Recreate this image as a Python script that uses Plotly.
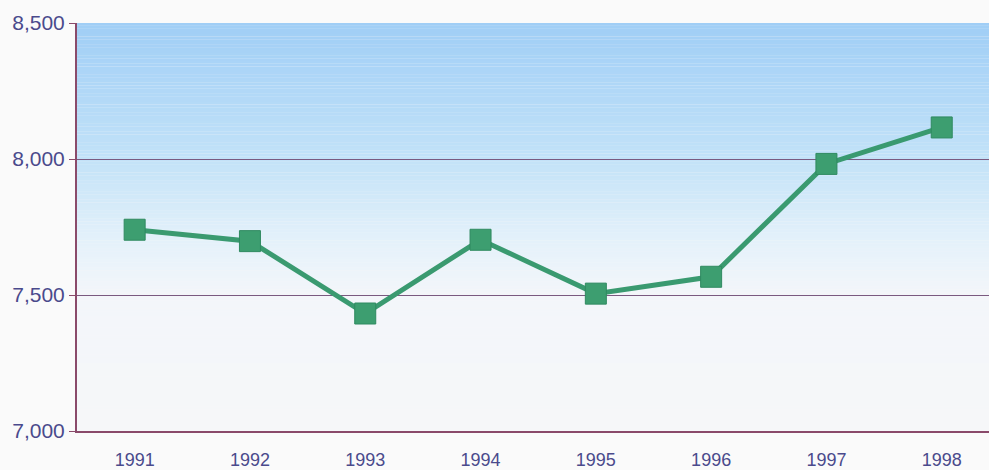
import plotly.graph_objects as go

years = ["1991", "1992", "1993", "1994", "1995", "1996", "1997", "1998"]
values = [7740, 7698, 7432, 7703, 7505, 7567, 7982, 8116]
y_ticks = [7000, 7500, 8000, 8500]
y_tick_labels = ["7,000", "7,500", "8,000", "8,500"]

# gradient stops (y value, rgb)
stops = [
    (8500, (160, 206, 246)),
    (8000, (194, 226, 248)),
    (7700, (228, 241, 250)),
    (7500, (243, 246, 250)),
    (7000, (246, 247, 249)),
]

def interp(v):
    for (y1, c1), (y2, c2) in zip(stops, stops[1:]):
        if y2 <= v <= y1:
            t = (y1 - v) / (y1 - y2)
            return "rgb(%d,%d,%d)" % tuple(round(a + (b - a) * t) for a, b in zip(c1, c2))
    return "rgb(246,247,249)"

shapes = []
n = 150
lo, hi = 7000, 8500
step = (hi - lo) / n
for i in range(n):
    y0 = lo + i * step
    y1 = y0 + step
    shapes.append(dict(type="rect", xref="x domain", yref="y", x0=0, x1=1,
                       y0=y0, y1=y1 + 0.5, fillcolor=interp((y0 + y1) / 2),
                       line=dict(width=0), layer="below"))

fig = go.Figure()
fig.add_trace(go.Scatter(
    x=years, y=values, mode="lines+markers",
    line=dict(color="#3a9a70", width=5),
    marker=dict(symbol="square", size=21, color="#3d9e70",
                line=dict(color="#2f8a60", width=1)),
    hoverinfo="skip",
))

fig.update_layout(
    width=989, height=470,
    margin=dict(l=77, r=0, t=23, b=37),
    paper_bgcolor="#fafafa",
    plot_bgcolor="#f6f7f9",
    showlegend=False,
    shapes=shapes,
    font=dict(family="Liberation Sans, Arial, sans-serif", size=18, color="#4a4a8c"),
)
fig.update_xaxes(
    type="category", range=[-0.5, 7.41],
    showgrid=False, showline=True, linecolor="#8a4a6a", linewidth=2,
    ticks="", tickfont=dict(size=18, color="#4a4a8c"), fixedrange=True,
    ticklabelstandoff=11,
)
fig.update_yaxes(
    range=[7000, 8500], tickvals=y_ticks, ticktext=y_tick_labels,
    showgrid=True, gridcolor="#7a5a80", gridwidth=1,
    showline=True, linecolor="#8a4a6a", linewidth=2,
    ticks="outside", ticklen=6, tickcolor="#8a4a6a",
    tickfont=dict(size=21, color="#4a4a8c"), zeroline=False, fixedrange=True,
)
fig.write_html(
    "out.html",
    config={"displayModeBar": False},
    post_script="document.body.style.margin='0';document.body.style.overflow='hidden';document.documentElement.style.overflow='hidden';",
)
